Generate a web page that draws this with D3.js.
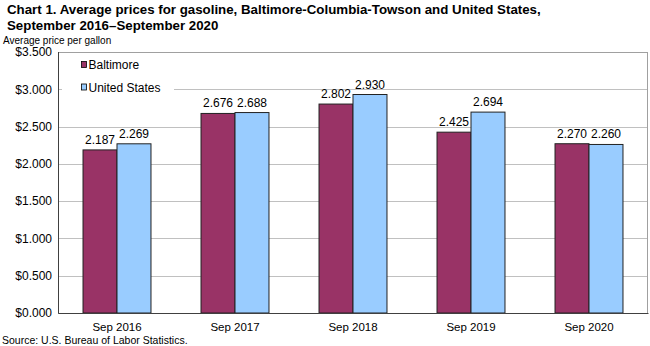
<!DOCTYPE html>
<html>
<head>
<meta charset="utf-8">
<script src="https://cdn.jsdelivr.net/npm/d3@7"></script>
<style>
  body { margin: 0; background: #fff; }
  svg { display: block; font-family: Arial, "Liberation Sans", sans-serif; }
</style>
</head>
<body>
<div id="chart"></div>
<script>
// chart data
var categories = ["Sep 2016", "Sep 2017", "Sep 2018", "Sep 2019", "Sep 2020"];
var seriesNames = ["Baltimore", "United States"];
var baltimore = [2.187, 2.676, 2.802, 2.425, 2.270];
var unitedStates = [2.269, 2.688, 2.930, 2.694, 2.260];
var yTicks = [0, 0.5, 1.0, 1.5, 2.0, 2.5, 3.0, 3.5];

var colors = ["#993366", "#99ccff"];

var width = 650, height = 346;
var margin = {top: 52, right: 2, bottom: 33, left: 58};
var plotW = width - margin.left - margin.right;
var plotH = height - margin.top - margin.bottom;

var svg = d3.select("#chart")
    .append("svg")
    .attr("width", width)
    .attr("height", height);

// titles
svg.append("text")
    .attr("x", 7).attr("y", 14)
    .style("font-size", "13.3px").style("font-weight", "bold")
    .text("Chart 1. Average prices for gasoline, Baltimore-Columbia-Towson and United States,");
svg.append("text")
    .attr("x", 7).attr("y", 30)
    .style("font-size", "13.3px").style("font-weight", "bold")
    .text("September 2016\u2013September 2020");
svg.append("text")
    .attr("x", 3).attr("y", 44)
    .style("font-size", "10px")
    .text("Average  price  per gallon");

var x0 = d3.scaleBand()
    .domain(categories)
    .range([0, plotW])
    .paddingInner(0.424)
    .paddingOuter(0.212);

var x1 = d3.scaleBand()
    .domain(seriesNames)
    .range([0, x0.bandwidth()]);

var y = d3.scaleLinear()
    .domain([0, 3.5])
    .range([plotH, 0]);

var g = svg.append("g")
    .attr("transform", "translate(" + margin.left + "," + margin.top + ")");

// gridlines
g.append("g")
    .selectAll("line")
    .data(yTicks.filter(function(d) { return d > 0; }))
    .enter().append("line")
    .attr("x1", 0).attr("x2", plotW)
    .attr("y1", function(d) { return Math.round(y(d)) + 0.5; })
    .attr("y2", function(d) { return Math.round(y(d)) + 0.5; })
    .attr("stroke", "#c0c0c0")
    .attr("stroke-width", 1);

// plot border (top / right)
g.append("rect")
    .attr("x", 0.5).attr("y", 0.5)
    .attr("width", plotW - 1).attr("height", plotH)
    .attr("fill", "none")
    .attr("stroke", "#a0a0a0");

// y axis labels
var yAxis = d3.axisLeft(y)
    .tickValues(yTicks)
    .tickSize(0)
    .tickPadding(6)
    .tickFormat(function(d) { return "$" + d3.format(".3f")(d); });
var yg = g.append("g").call(yAxis);
yg.select(".domain").attr("stroke", "#404040");
yg.selectAll("text")
    .attr("x", -6)
    .style("font-size", "12px")
    .style("font-family", "Arial, 'Liberation Sans', sans-serif")
    .attr("fill", "#000");

// legend box (covers gridline)
var legend = g.append("g").attr("transform", "translate(4,3)");
legend.append("rect")
    .attr("x", 0).attr("y", 0)
    .attr("width", 112).attr("height", 44)
    .attr("fill", "#fff");
seriesNames.forEach(function(name, i) {
    var ly = 14 + i * 22.5;
    legend.append("rect")
        .attr("x", 19.5).attr("y", ly - 7.5)
        .attr("width", 5).attr("height", 6)
        .attr("fill", colors[i])
        .attr("stroke", "#000")
        .attr("stroke-width", 0.8);
    legend.append("text")
        .attr("x", 26.5).attr("y", ly)
        .style("font-size", "12px")
        .text(name);
});

// bars
var rows = categories.map(function(c, i) {
    return {cat: c, values: [baltimore[i], unitedStates[i]]};
});

var groups = g.selectAll(".grp")
    .data(rows)
    .enter().append("g")
    .attr("class", "grp")
    .attr("transform", function(d) { return "translate(" + x0(d.cat) + ",0)"; });

groups.selectAll("rect")
    .data(function(d) {
        return d.values.map(function(v, i) { return {name: seriesNames[i], value: v, idx: i}; });
    })
    .enter().append("rect")
    .attr("x", function(d) { return x1(d.name); })
    .attr("y", function(d) { return y(d.value); })
    .attr("width", x1.bandwidth())
    .attr("height", function(d) { return plotH - y(d.value); })
    .attr("fill", function(d) { return colors[d.idx]; })
    .attr("stroke", "#222")
    .attr("stroke-width", 1);

groups.selectAll(".val")
    .data(function(d) {
        return d.values.map(function(v, i) { return {name: seriesNames[i], value: v}; });
    })
    .enter().append("text")
    .attr("class", "val")
    .attr("x", function(d) { return x1(d.name) + x1.bandwidth() / 2; })
    .attr("y", function(d) { return y(d.value) - 6; })
    .attr("text-anchor", "middle")
    .style("font-size", "12px")
    .text(function(d) { return d3.format(".3f")(d.value); });

// x axis
var xAxis = d3.axisBottom(x0).tickSize(0).tickPadding(10);
var xg = g.append("g")
    .attr("transform", "translate(0," + plotH + ")")
    .call(xAxis);
xg.select(".domain").attr("stroke", "#404040");
xg.selectAll("text")
    .style("font-size", "11.5px")
    .style("font-family", "Arial, 'Liberation Sans', sans-serif")
    .attr("fill", "#000");

// left axis line over border
g.append("line")
    .attr("x1", 0.5).attr("x2", 0.5)
    .attr("y1", 0).attr("y2", plotH)
    .attr("stroke", "#404040");

svg.append("text")
    .attr("x", 2).attr("y", 344)
    .style("font-size", "10.5px")
    .text("Source:  U.S.  Bureau  of  Labor  Statistics.");
</script>
</body>
</html>
